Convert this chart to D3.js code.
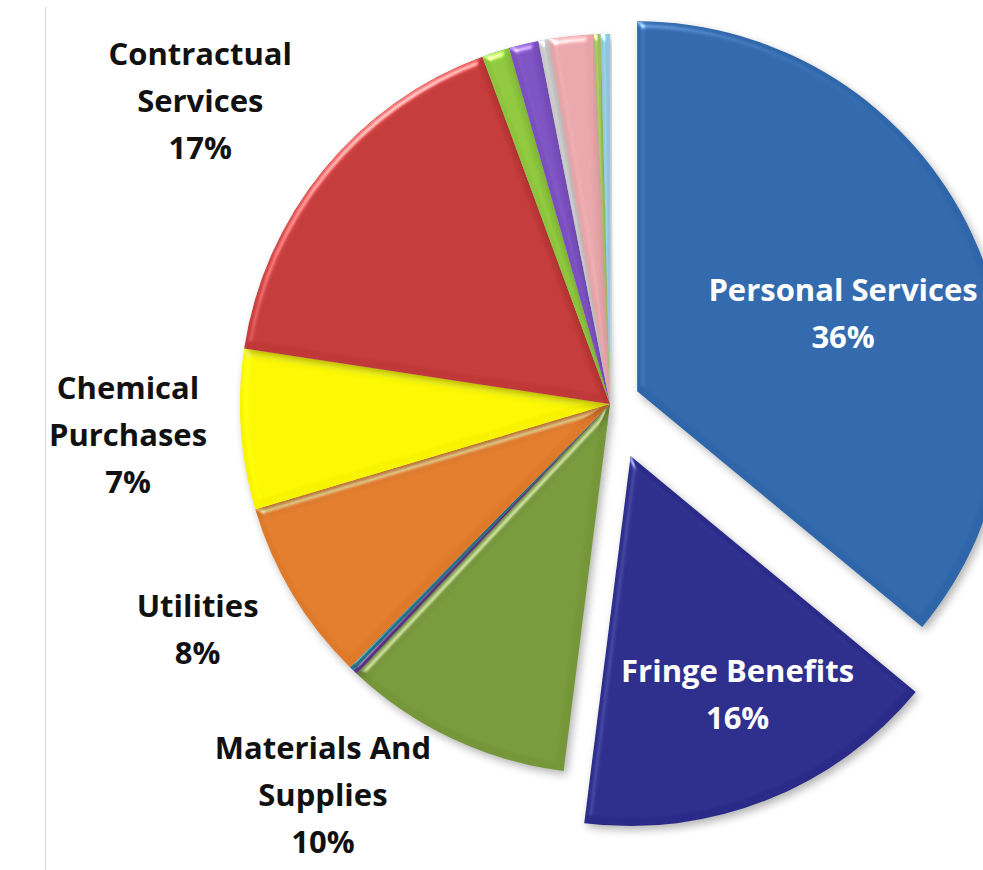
<!DOCTYPE html>
<html>
<head>
<meta charset="utf-8">
<script src="https://cdn.jsdelivr.net/npm/d3@7"></script>
<style>
  html, body { margin: 0; padding: 0; background: #fff; }
  svg { display: block; }
  text { font-family: "Open Sans", Lato, sans-serif; font-weight: 700; }
</style>
</head>
<body>
<svg id="chart" width="983" height="870"></svg>
<script>
// Budget shares by expense category (percent), clockwise from 12 o'clock
const categories = [
  "Personal Services", "Fringe Benefits", "Materials And Supplies",
  "Other A", "Other B", "Utilities", "Chemical Purchases", "Contractual Services",
  "Other C", "Other D", "Other E", "Other F", "Other G", "Other H"
];
const shares = [36, 16, 10, 0.2, 0.2, 8, 7, 17, 1.2, 1.3, 0.45, 1.95, 0.3, 0.4];
const colors = [
  "#2f66aa", "#2a2b88", "#76963a", "#6b3f9c", "#2b8ca4", "#e07a2b", "#f8f400",
  "#c03838", "#8cc43c", "#7a4fbe", "#c8c8c8", "#e5a4a7", "#9fbf5d", "#8fc6dc"
];
// Label text lines for the labelled categories
const labelLines = {
  "Personal Services": ["Personal Services"],
  "Fringe Benefits": ["Fringe Benefits"],
  "Materials And Supplies": ["Materials And", "Supplies"],
  "Utilities": ["Utilities"],
  "Chemical Purchases": ["Chemical", "Purchases"],
  "Contractual Services": ["Contractual", "Services"]
};
// Exploded slices: distance pulled out along the bisector
const explode = { "Personal Services": 30, "Fringe Benefits": 56 };
// Label placement: radius from slice origin and angle shift (degrees) from the bisector
const labelPlace = {
  "Personal Services": { r: 220, da: 4.6, fill: "#fff" },
  "Fringe Benefits": { r: 261, da: -2.6, fill: "#fff" },
  "Materials And Supplies": { r: 485, da: 11.1, fill: "#111" },
  "Utilities": { r: 470, da: 2.3, fill: "#111" },
  "Chemical Purchases": { r: 483, da: 0.3, fill: "#111" },
  "Contractual Services": { r: 510, da: -2.7, fill: "#111" }
};

const svg = d3.select("#chart");
const cx = 610, cy = 404, R = 370;
const fmt = d3.format(".0f");

// Chart-area left border
svg.append("line")
  .attr("x1", 45.5).attr("x2", 45.5).attr("y1", 7).attr("y2", 870)
  .attr("stroke", "#d4d4d4").attr("stroke-width", 1);

// Soft bevel + drop shadow applied to every slice
const defs = svg.append("defs");
const f = defs.append("filter").attr("id", "bevel")
  .attr("color-interpolation-filters", "sRGB")
  .attr("x", "-20%").attr("y", "-20%").attr("width", "140%").attr("height", "140%");
f.append("feGaussianBlur").attr("in", "SourceAlpha").attr("stdDeviation", 3.5).attr("result", "blur");
const spec = f.append("feSpecularLighting").attr("in", "blur")
  .attr("surfaceScale", 5).attr("specularConstant", 0.8).attr("specularExponent", 22)
  .attr("lighting-color", "#ffffff").attr("result", "spec");
spec.append("feDistantLight").attr("azimuth", 235).attr("elevation", 28);
f.append("feComposite").attr("in", "spec").attr("in2", "SourceAlpha").attr("operator", "in").attr("result", "specIn");
f.append("feComposite").attr("in", "SourceGraphic").attr("in2", "specIn")
  .attr("operator", "arithmetic").attr("k1", 0).attr("k2", 1).attr("k3", 0.7).attr("k4", 0).attr("result", "lit");
f.append("feGaussianBlur").attr("in", "SourceAlpha").attr("stdDeviation", 4).attr("result", "sb");
f.append("feOffset").attr("in", "sb").attr("dx", 3).attr("dy", 4).attr("result", "so");
const ct = f.append("feComponentTransfer").attr("in", "so").attr("result", "shadow");
ct.append("feFuncA").attr("type", "linear").attr("slope", 0.3);
const merge = f.append("feMerge");
merge.append("feMergeNode").attr("in", "shadow");
merge.append("feMergeNode").attr("in", "lit");

const data = categories.map((c, i) => ({ name: c, value: shares[i], color: colors[i] }));
const pie = d3.pie().value(d => d.value).sort(null);
const arcs = pie(data);
const arc = d3.arc().innerRadius(0).outerRadius(R);

function offsetOf(a) {
  const d = explode[a.data.name] || 0;
  const mid = (a.startAngle + a.endAngle) / 2;
  return [d * Math.sin(mid), -d * Math.cos(mid)];
}

const g = svg.append("g").attr("transform", `translate(${cx},${cy})`);

g.selectAll("path.slice")
  .data(arcs)
  .join("path")
  .attr("class", "slice")
  .attr("d", arc)
  .attr("fill", d => d.data.color)
  .attr("filter", "url(#bevel)")
  .attr("transform", d => `translate(${offsetOf(d)})`);

// Category labels with percentage
const fontSize = 31, lineH = 47;
arcs.filter(a => labelLines[a.data.name]).forEach(a => {
  const p = labelPlace[a.data.name];
  const [ox, oy] = offsetOf(a);
  const ang = (a.startAngle + a.endAngle) / 2 + p.da * Math.PI / 180;
  const x = ox + p.r * Math.sin(ang);
  const y = oy - p.r * Math.cos(ang);
  const lines = labelLines[a.data.name].concat([fmt(a.data.value) + "%"]);
  const y0 = y - (lines.length - 1) * lineH / 2;
  const t = g.append("text")
    .attr("text-anchor", "middle")
    .attr("font-size", fontSize)
    .attr("fill", p.fill);
  lines.forEach((ln, i) => {
    t.append("tspan")
      .attr("x", x)
      .attr("y", y0 + i * lineH)
      .attr("dy", "0.36em")
      .text(ln);
  });
});
</script>
</body>
</html>
